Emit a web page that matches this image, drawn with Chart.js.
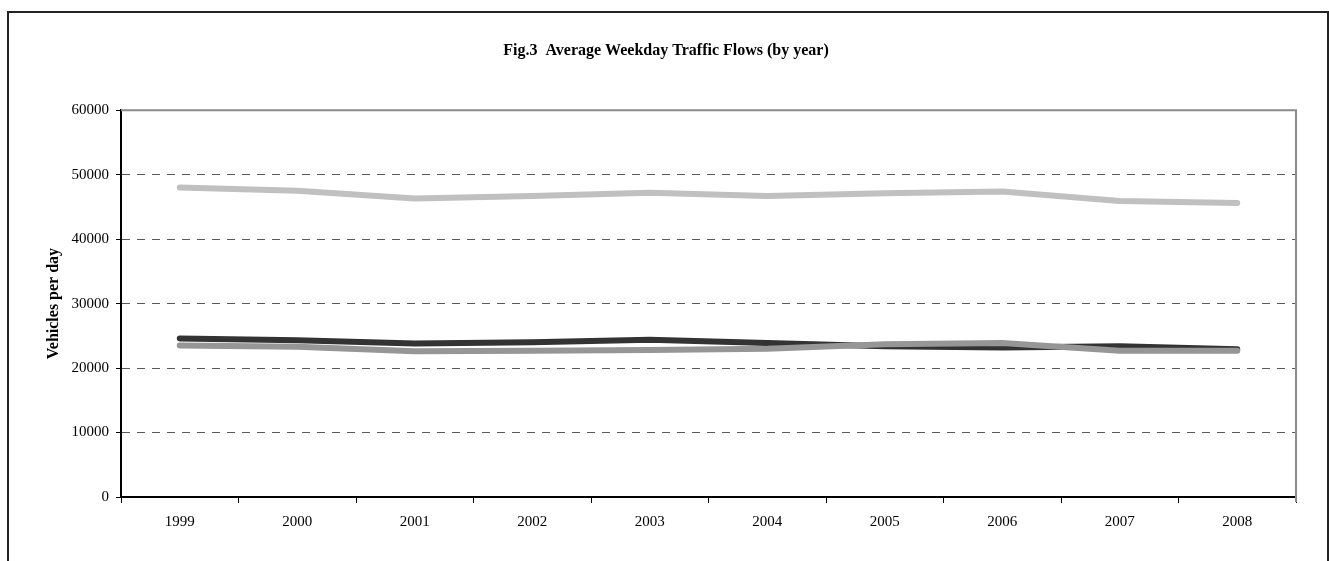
<!DOCTYPE html>
<html lang="en">
<head>
    <meta charset="UTF-8">
    <title>Fig.3 Average Weekday Traffic Flows</title>
    <script src="https://cdn.jsdelivr.net/npm/chart.js"></script>
    <style>
        html, body { margin: 0; padding: 0; background: #fff; overflow: hidden; }
        .frame {
            position: absolute; left: 7px; top: 11px;
            width: 1318px; height: 600px;
            border: 2px solid #222; border-bottom: none;
        }
        .wrap { position: absolute; left: 0; top: 0; width: 1329px; height: 561px; }
    </style>
</head>
<body>
    <div class="frame"></div>
    <div class="wrap"><canvas id="grafico"></canvas></div>

    <script>
        // dados
        const anos = ['1999', '2000', '2001', '2002', '2003', '2004', '2005', '2006', '2007', '2008'];
        const serieClara = [48000, 47500, 46300, 46700, 47200, 46700, 47100, 47400, 45900, 45600];
        const serieEscura = [24600, 24300, 23800, 24000, 24400, 23900, 23400, 23200, 23400, 22900];
        const serieMedia = [23500, 23300, 22600, 22700, 22800, 23000, 23700, 23900, 22700, 22700];

        const serif = 'Liberation Serif, Times New Roman, serif';

        // moldura cinza da área de plotagem
        const molduraPlot = {
            id: 'molduraPlot',
            beforeDatasetsDraw(chart) {
                const a = chart.chartArea;
                const ctx = chart.ctx;
                ctx.save();
                ctx.strokeStyle = '#8c8c8c';
                ctx.lineWidth = 2;
                ctx.beginPath();
                ctx.moveTo(a.left, a.top);
                ctx.lineTo(a.right, a.top);
                ctx.lineTo(a.right, a.bottom + 5);
                ctx.stroke();
                ctx.restore();
            }
        };

        let ctx = document.getElementById('grafico').getContext('2d');
        new Chart(ctx, {
            type: 'line',
            data: {
                labels: anos,
                // o primeiro dataset fica por cima
                datasets: [
                    { data: serieMedia, borderColor: '#969696' },
                    { data: serieEscura, borderColor: '#333333' },
                    { data: serieClara, borderColor: '#c0c0c0' }
                ].map(d => Object.assign(d, {
                    borderWidth: 6,
                    borderCapStyle: 'round',
                    borderJoinStyle: 'round',
                    pointRadius: 0,
                    tension: 0,
                    fill: false
                }))
            },
            options: {
                responsive: true,
                maintainAspectRatio: false,
                animation: false,
                layout: { padding: { left: 36, right: 33, top: 0, bottom: 0 } },
                plugins: {
                    legend: { display: false },
                    tooltip: { enabled: false },
                    title: {
                        display: true,
                        text: 'Fig.3  Average Weekday Traffic Flows (by year)',
                        color: '#000',
                        font: { family: serif, size: 16, weight: 'bold' },
                        padding: { top: 41, bottom: 50 }
                    }
                },
                scales: {
                    x: {
                        offset: true,
                        grid: {
                            offset: true,
                            drawOnChartArea: false,
                            drawTicks: true,
                            tickLength: 6,
                            tickColor: '#000',
                            tickWidth: 1
                        },
                        border: { color: '#000', width: 2 },
                        ticks: {
                            color: '#000',
                            padding: 10,
                            maxRotation: 0,
                            font: { family: serif, size: 15 }
                        },
                        afterFit(scale) { scale.height = 64; }
                    },
                    y: {
                        min: 0,
                        max: 60000,
                        ticks: {
                            stepSize: 10000,
                            color: '#000',
                            padding: 7,
                            font: { family: serif, size: 15 },
                            callback: v => String(v)
                        },
                        grid: {
                            color: c => (c.tick && (c.tick.value === 0 || c.tick.value === 60000)) ? 'rgba(0,0,0,0)' : '#5a5a5a',
                            lineWidth: 1,
                            drawTicks: true,
                            tickLength: 5,
                            tickColor: '#000'
                        },
                        border: { color: '#000', width: 2, dash: [8, 7] },
                        title: {
                            display: true,
                            text: 'Vehicles per day',
                            color: '#000',
                            font: { family: serif, size: 16, weight: 'bold' },
                            padding: { top: 8, bottom: 0 }
                        },
                        afterFit(scale) { scale.width = 85; }
                    }
                }
            },
            plugins: [molduraPlot]
        });
    </script>
</body>
</html>
